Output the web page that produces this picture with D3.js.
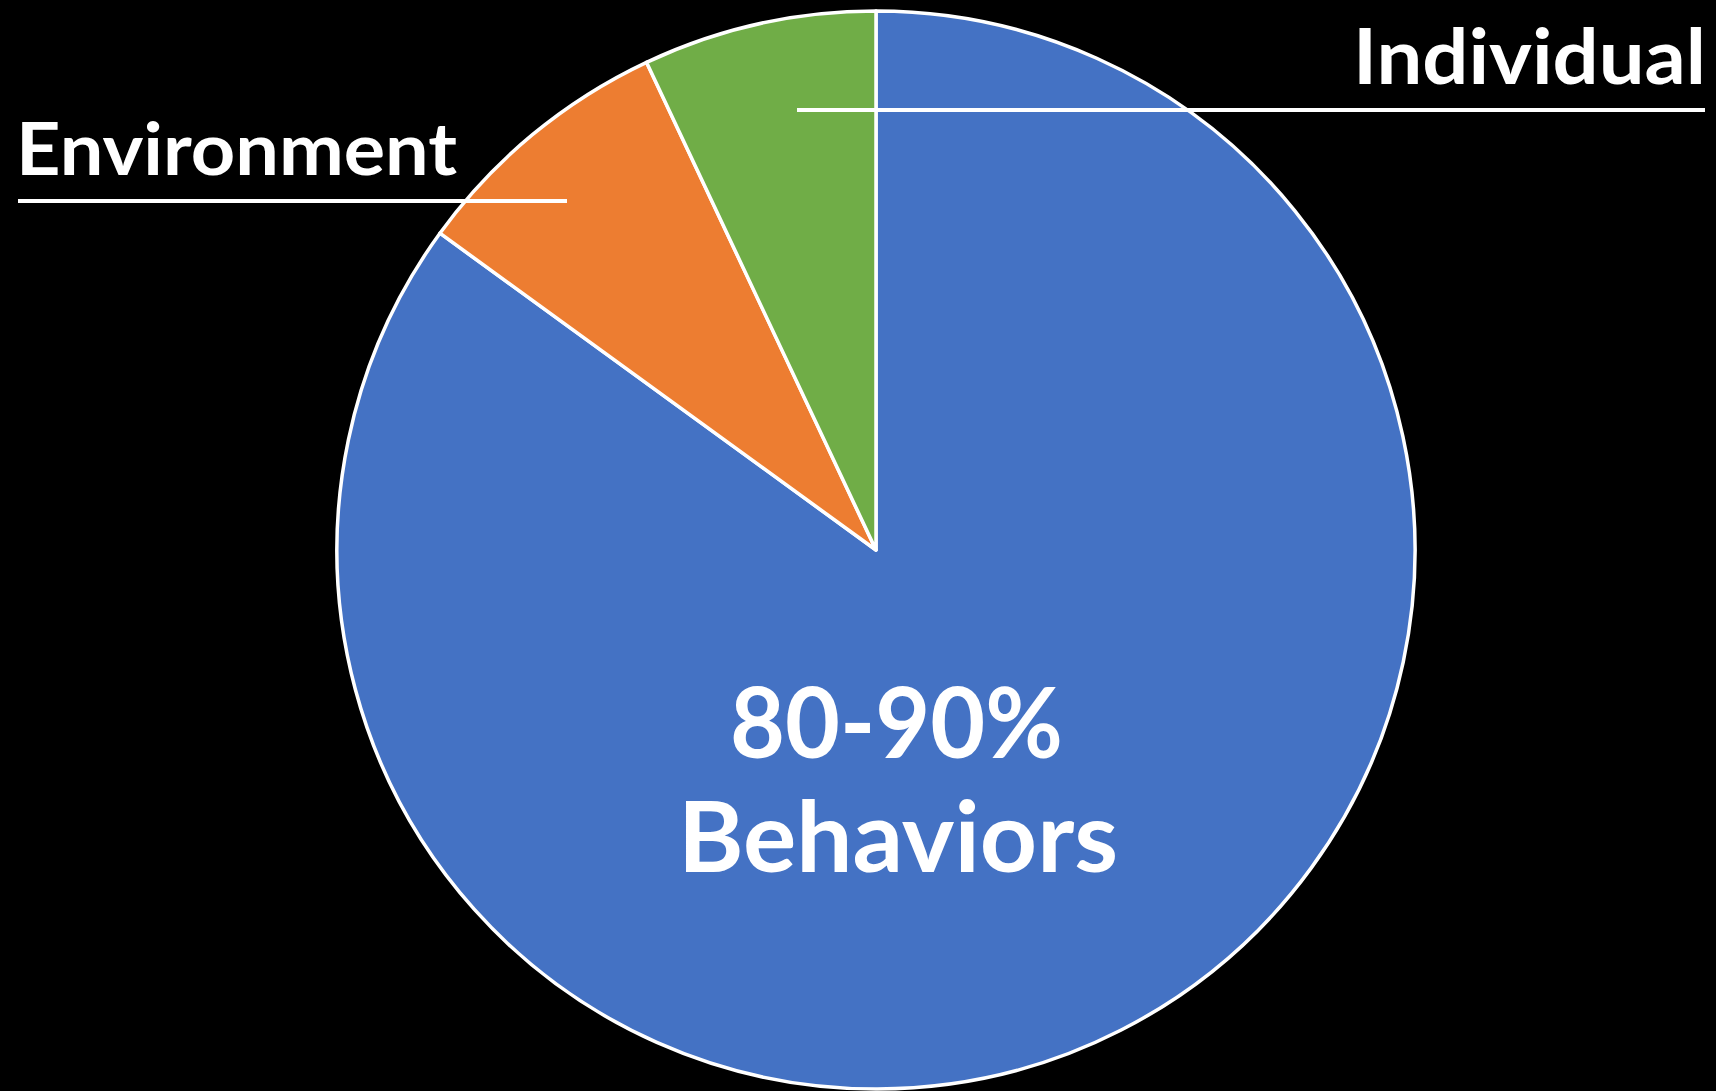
<!DOCTYPE html>
<html>
<head>
<meta charset="utf-8">
<script src="https://cdn.jsdelivr.net/npm/d3@7"></script>
<style>
  html, body { margin: 0; padding: 0; background: #000; }
  svg { display: block; }
  text { font-family: Lato, "Open Sans", sans-serif; font-weight: 700; fill: #fff; }
</style>
</head>
<body>
<svg id="chart" width="1716" height="1091"></svg>
<script>
// slice values (percent of the circle), clockwise from 12 o'clock
const categories = ["Behaviors", "Environment", "Individual"];
const shares = [85, 8, 7];
const colors = ["#4472C4", "#ED7D31", "#70AD47"];
const centerLines = ["80-90%", "Behaviors"];

let svg = d3.select("#chart"),
    width = +svg.attr("width"),
    height = +svg.attr("height");

let cx = 876, cy = 550, radius = 539;

let slices = categories.map(function(c, i) {
    return {name: c, value: shares[i]};
});

let color = d3.scaleOrdinal().domain(categories).range(colors);

let pie = d3.pie()
    .sort(null)
    .value(function(d) { return d.value; });

let arc = d3.arc().innerRadius(0).outerRadius(radius);

let g = svg.append("g").attr("transform", "translate(" + cx + "," + cy + ")");

g.selectAll(".slice")
    .data(pie(slices))
    .enter().append("path")
    .attr("class", "slice")
    .attr("d", arc)
    .style("fill", function(d) { return color(d.data.name); })
    .style("stroke", "#fff")
    .style("stroke-width", 3.5)
    .style("stroke-linejoin", "round");

// labels with underline rules (drawn over the pie)
svg.append("text")
    .attr("x", 16)
    .attr("y", 175)
    .attr("textLength", 441)
    .attr("lengthAdjust", "spacingAndGlyphs")
    .style("font-size", "73px")
    .text(categories[1]);

svg.append("line")
    .attr("x1", 18).attr("x2", 567)
    .attr("y1", 201).attr("y2", 201)
    .style("stroke", "#fff")
    .style("stroke-width", 4);

svg.append("text")
    .attr("x", 1353)
    .attr("y", 84)
    .attr("textLength", 353)
    .attr("lengthAdjust", "spacingAndGlyphs")
    .style("font-size", "76px")
    .text(categories[2]);

svg.append("line")
    .attr("x1", 797).attr("x2", 1705)
    .attr("y1", 110).attr("y2", 110)
    .style("stroke", "#fff")
    .style("stroke-width", 4);

// big label inside the blue slice
svg.append("text")
    .attr("x", 730)
    .attr("y", 758)
    .attr("textLength", 333)
    .attr("lengthAdjust", "spacingAndGlyphs")
    .style("font-size", "97px")
    .text(centerLines[0]);

svg.append("text")
    .attr("x", 678)
    .attr("y", 872)
    .attr("textLength", 440)
    .attr("lengthAdjust", "spacingAndGlyphs")
    .style("font-size", "97px")
    .text(centerLines[1]);
</script>
</body>
</html>
